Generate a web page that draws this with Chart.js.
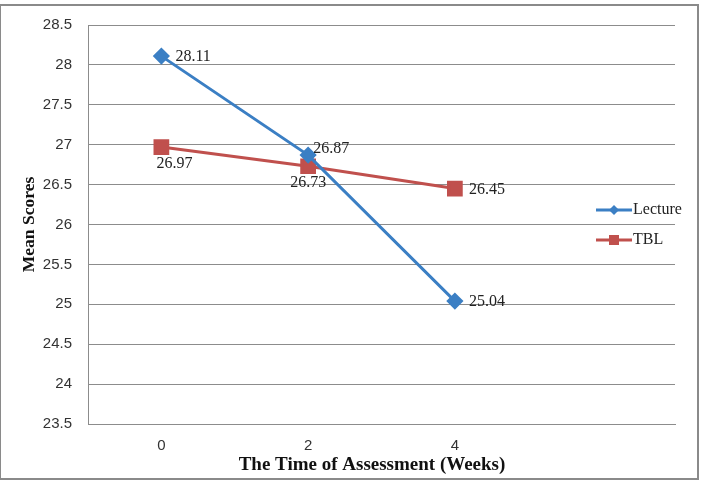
<!DOCTYPE html>
<html>
<head>
<meta charset="utf-8">
<script src="https://cdn.jsdelivr.net/npm/chart.js@4"></script>
<style>
    html, body { margin: 0; padding: 0; background: #fff; }
    #wrap { position: relative; width: 703px; height: 481px; }
    #frame {
        position: absolute; left: 0; top: 4px; width: 696px; height: 472px;
        border: 2px solid #8a8a8a; border-left-width: 1px; box-sizing: content-box;
    }
    #chart { position: absolute; left: 0; top: 0; }
</style>
</head>
<body>
<div id="wrap">
    <div id="frame"></div>
    <canvas id="chart" width="703" height="481"></canvas>
</div>
<script>
const weeks = ["0", "2", "4", ""];
const lectureScores = [28.11, 26.87, 25.04];
const tblScores = [26.97, 26.73, 26.45];
const yTicks = [23.5, 24, 24.5, 25, 25.5, 26, 26.5, 27, 27.5, 28, 28.5];

const blue = "#3b7fc4";
const red = "#c0504d";
const serif = "'Liberation Serif', 'Times New Roman', serif";
const sans = "'Liberation Sans', Arial, sans-serif";

// where each value label sits relative to its point
const labelSpots = {
    0: ["right", "rightUp", "right"],
    1: ["belowRight", "below", "right"]
};

const valueLabels = {
    id: "valueLabels",
    afterDatasetsDraw(chart) {
        const { ctx } = chart;
        ctx.save();
        ctx.font = "16px " + serif;
        ctx.fillStyle = "#222";
        ctx.textBaseline = "middle";
        chart.data.datasets.forEach((ds, i) => {
            const meta = chart.getDatasetMeta(i);
            meta.data.forEach((pt, j) => {
                const text = ds.data[j].toFixed(2);
                const spot = labelSpots[i][j];
                ctx.textAlign = "left";
                if (spot === "right") {
                    ctx.fillText(text, pt.x + 14, pt.y + 1);
                } else if (spot === "rightUp") {
                    ctx.fillText(text, pt.x + 5, pt.y - 6);
                } else if (spot === "belowRight") {
                    ctx.fillText(text, pt.x - 5, pt.y + 17);
                } else {
                    ctx.textAlign = "center";
                    ctx.fillText(text, pt.x, pt.y + 17);
                }
            });
        });
        ctx.restore();
    }
};

const sideLegend = {
    id: "sideLegend",
    afterDraw(chart) {
        const { ctx } = chart;
        const rows = [210, 240];
        ctx.save();
        chart.data.datasets.forEach((ds, i) => {
            const y = rows[i];
            ctx.strokeStyle = ds.borderColor;
            ctx.lineWidth = 3;
            ctx.beginPath();
            ctx.moveTo(596, y);
            ctx.lineTo(632, y);
            ctx.stroke();
            ctx.fillStyle = ds.backgroundColor;
            if (ds.pointStyle === "rectRot") {
                ctx.beginPath();
                ctx.moveTo(614, y - 5);
                ctx.lineTo(619, y);
                ctx.lineTo(614, y + 5);
                ctx.lineTo(609, y);
                ctx.closePath();
                ctx.fill();
            } else {
                ctx.fillRect(609, y - 5, 10, 10);
            }
            ctx.fillStyle = "#222";
            ctx.font = "16px " + serif;
            ctx.textAlign = "left";
            ctx.textBaseline = "middle";
            ctx.fillText(ds.label, 633, y);
        });
        ctx.restore();
    }
};

const axisTitles = {
    id: "axisTitles",
    afterDraw(chart) {
        const { ctx, chartArea } = chart;
        ctx.save();
        ctx.fillStyle = "#111";
        ctx.textAlign = "center";
        ctx.textBaseline = "middle";
        ctx.font = "bold 19px " + serif;
        ctx.fillText("The Time of Assessment (Weeks)", 372, 465);
        ctx.font = "bold 17.5px " + serif;
        ctx.translate(29, (chartArea.top + chartArea.bottom) / 2);
        ctx.rotate(-Math.PI / 2);
        ctx.fillText("Mean Scores", 0, 0);
        ctx.restore();
    }
};

new Chart(document.getElementById("chart"), {
    type: "line",
    data: {
        labels: weeks,
        datasets: [
            {
                label: "Lecture",
                data: lectureScores,
                borderColor: blue,
                backgroundColor: blue,
                borderWidth: 3,
                pointStyle: "rectRot",
                pointRadius: 6.5,
                pointHoverRadius: 6.5,
                tension: 0
            },
            {
                label: "TBL",
                data: tblScores,
                borderColor: red,
                backgroundColor: red,
                borderWidth: 3,
                pointStyle: "rect",
                pointRadius: 9,
                pointHoverRadius: 9,
                tension: 0
            }
        ]
    },
    options: {
        responsive: false,
        animation: false,
        layout: { padding: { top: 22, right: 28, bottom: 0, left: 0 } },
        plugins: {
            legend: { display: false },
            tooltip: { enabled: false }
        },
        scales: {
            x: {
                offset: true,
                grid: { display: false, drawTicks: false },
                border: { display: true, color: "#8c8c8c", width: 1 },
                ticks: {
                    color: "#333",
                    font: { size: 15, family: sans },
                    padding: 13
                },
                afterFit(scale) { scale.height = 57; }
            },
            y: {
                min: 23.5,
                max: 28.5,
                afterBuildTicks(scale) {
                    scale.ticks = yTicks.map(v => ({ value: v }));
                },
                grid: { color: "#8c8c8c", lineWidth: 1, drawTicks: false },
                border: { display: true, color: "#8c8c8c", width: 1 },
                ticks: {
                    color: "#333",
                    font: { size: 15, family: sans },
                    padding: 16,
                    callback: v => String(v)
                },
                afterFit(scale) { scale.width = 88; }
            }
        }
    },
    plugins: [valueLabels, sideLegend, axisTitles]
});
</script>
</body>
</html>
